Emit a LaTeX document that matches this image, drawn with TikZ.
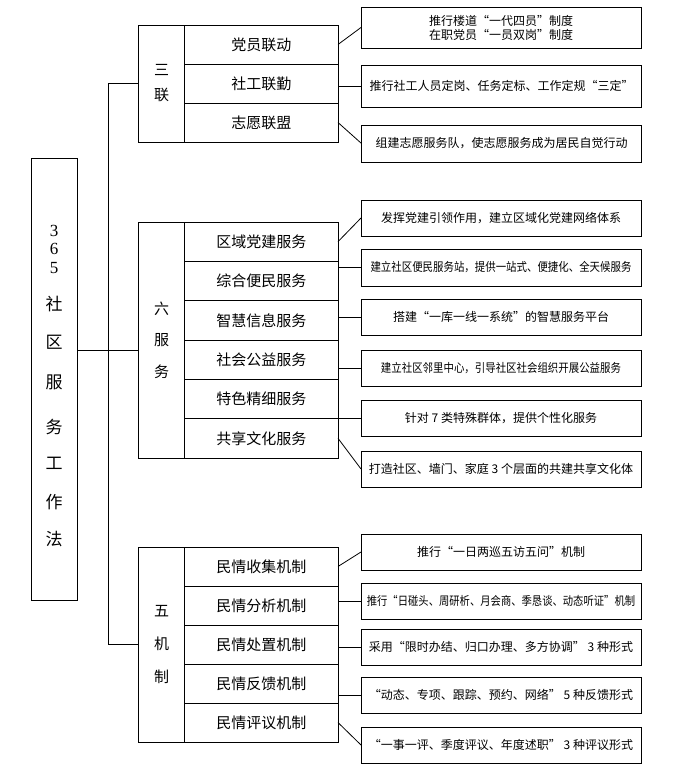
\documentclass[tikz,border=0pt]{standalone}
\usepackage{fontspec}
\setmainfont{Noto Sans CJK SC}
\newfontfamily\serifnum{Liberation Serif}
\begin{document}
\begin{tikzpicture}[x=1pt,y=-1pt]
\tikzset{
  cell/.style={draw, line width=0.8pt, inner sep=0pt, outer sep=0pt, align=center},
  rowbox/.style={cell, minimum width=153.5pt, minimum height=39pt, font=\fontsize{15}{18}\selectfont},
  labelbox/.style={cell, minimum width=46pt},
  descbox/.style={cell, minimum width=280pt, minimum height=36pt, font=\fontsize{12}{14}\selectfont},
  link/.style={line width=0.8pt},
}
\useasboundingbox (0,0) rectangle (680,773);

% main box
\node[cell, minimum width=46pt, minimum height=442pt, font=\fontsize{17}{18.5}\selectfont] (main) at (54,379)
  {\mbox{}\\[6pt]{\serifnum 3}\\{\serifnum 6}\\{\serifnum 5}\\[18.5pt]社\\[19.5pt]区\\[21.5pt]服\\[26.5pt]务\\[17.5pt]工\\[20.5pt]作\\[18.5pt]法};

% group 1
\node[labelbox, minimum height=117pt, font=\fontsize{15}{25}\selectfont] (g1) at (161.5,83.5) {三\\联};
\node[rowbox] (r11) at (261.25,44.5) {党员联动};
\node[rowbox] (r12) at (261.25,83.5) {社工联勤};
\node[rowbox] (r13) at (261.25,122.5) {志愿联盟};

% group 2
\node[labelbox, minimum height=236pt, font=\fontsize{15}{31.5}\selectfont] (g2) at (161.5,340) {六\\服\\务};
\node[rowbox, minimum height=39.33pt] (r21) at (261.25,241.67) {区域党建服务};
\node[rowbox, minimum height=39.33pt] (r22) at (261.25,281) {综合便民服务};
\node[rowbox, minimum height=39.33pt] (r23) at (261.25,320.33) {智慧信息服务};
\node[rowbox, minimum height=39.33pt] (r24) at (261.25,359.67) {社会公益服务};
\node[rowbox, minimum height=39.33pt] (r25) at (261.25,399) {特色精细服务};
\node[rowbox, minimum height=39.33pt] (r26) at (261.25,438.33) {共享文化服务};

% group 3
\node[labelbox, minimum height=195pt, font=\fontsize{15}{33}\selectfont] (g3) at (161.5,644.5) {五\\机\\制};
\node[rowbox] (r31) at (261.25,566.5) {民情收集机制};
\node[rowbox] (r32) at (261.25,605.5) {民情分析机制};
\node[rowbox] (r33) at (261.25,644.5) {民情处置机制};
\node[rowbox] (r34) at (261.25,683.5) {民情反馈机制};
\node[rowbox] (r35) at (261.25,722.5) {民情评议机制};

% descriptions group 1
\node[descbox, minimum height=41pt] (d11) at (501,27.5) {推行楼道“一代四员”制度\\在职党员“一员双岗”制度};
\node[descbox, minimum height=42pt] (d12) at (501.5,86) {推行社工人员定岗、任务定标、工作定规“三定”};
\node[descbox, minimum height=37pt] (d13) at (501.5,143.5) {组建志愿服务队，使志愿服务成为居民自觉行动};

% descriptions group 2
\node[descbox] (d21) at (501,218) {发挥党建引领作用，建立区域化党建网络体系};
\node[descbox, minimum height=37pt] (d22) at (501,267.5) {\scalebox{0.87}[1]{建立社区便民服务站，提供一站式、便捷化、全天候服务}};
\node[descbox] (d23) at (501,317) {搭建“一库一线一系统”的智慧服务平台};
\node[descbox] (d24) at (501,368) {\scalebox{0.87}[1]{建立社区邻里中心，引导社区社会组织开展公益服务}};
\node[descbox] (d25) at (501,418) {针对 7 类特殊群体，提供个性化服务};
\node[descbox] (d26) at (501,469) {打造社区、墙门、家庭 3 个层面的共建共享文化体};

% descriptions group 3
\node[descbox] (d31) at (501,552) {推行“一日两巡五访五问”机制};
\node[descbox] (d32) at (501,601) {\scalebox{0.86}[1]{推行“日碰头、周研析、月会商、季恳谈、动态听证”机制}};
\node[descbox] (d33) at (501,647) {采用“限时办结、归口办理、多方协调” 3 种形式};
\node[descbox] (d34) at (501,695) {“动态、专项、跟踪、预约、网络” 5 种反馈形式};
\node[descbox] (d35) at (501,745) {“一事一评、季度评议、年度述职” 3 种评议形式};

% bracket from main box to groups
\coordinate (bx) at (108,84);
\coordinate (mj) at (77,350);
\draw[link] (g1.west) -- (bx |- g1.west) -- (bx |- g3.west) -- (g3.west);
\draw[link] (main.east |- mj) -- (g2.west |- mj);

% connectors group 1
\draw[link] (r11.east) -- (d11.west);
\draw[link] (d12.west) -- (d12.west -| r12.east);
\draw[link] (r13.east) -- (d13.west);

% connectors group 2
\draw[link] (r21.east) -- (d21.west);
\draw[link] (d22.west) -- (d22.west -| r22.east);
\draw[link] (d23.west) -- (d23.west -| r23.east);
\draw[link] (d24.west) -- (d24.west -| r24.east);
\draw[link] (d25.west) -- (d25.west -| r25.east);
\draw[link] (r26.east) -- (d26.west);

% connectors group 3
\draw[link] (r31.east) -- (d31.west);
\draw[link] (d32.west) -- (d32.west -| r32.east);
\draw[link] (d33.west) -- (d33.west -| r33.east);
\draw[link] (d34.west) -- (d34.west -| r34.east);
\draw[link] (r35.east) -- (d35.west);
\end{tikzpicture}
\end{document}
